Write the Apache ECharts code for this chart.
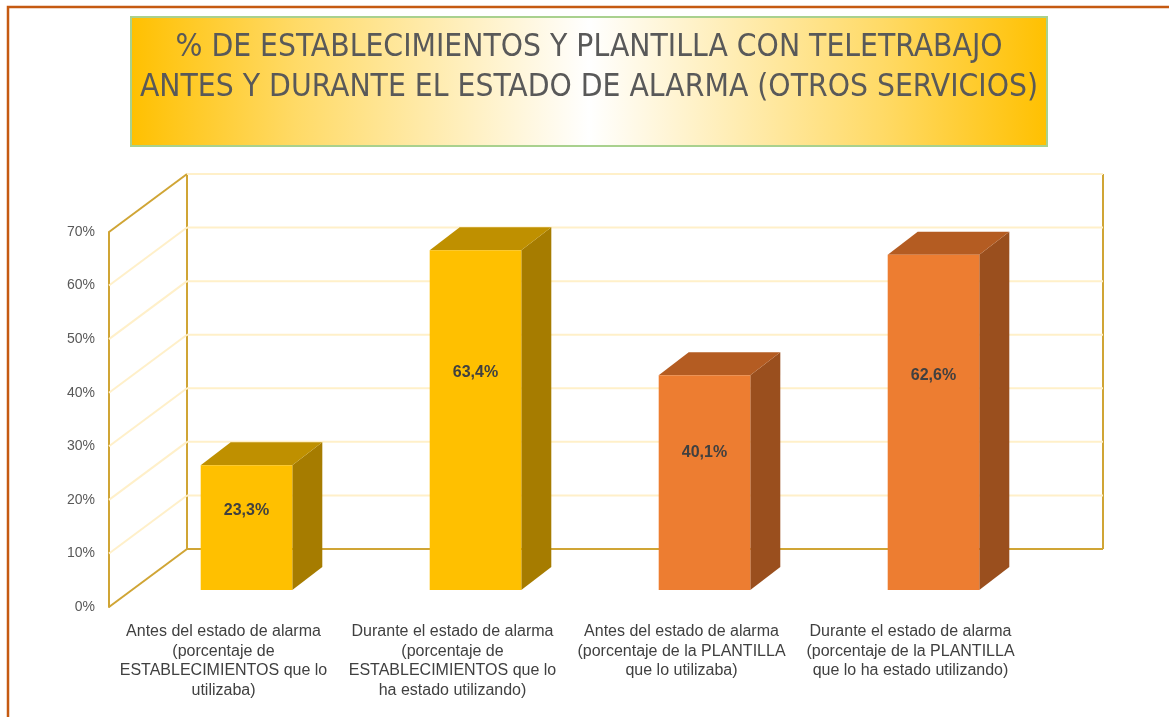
<!DOCTYPE html>
<html>
<head>
<meta charset="utf-8">
<title>Teletrabajo - otros servicios</title>
<script src="https://cdn.jsdelivr.net/npm/echarts@6/dist/echarts.min.js"></script>
<style>
  html, body { margin: 0; padding: 0; background: #fff; }
  #main { width: 1169px; height: 717px; }
</style>
</head>
<body>
<div id="main"></div>
<script>
// datos del grafico
var categorias = [
  'Antes del estado de alarma\n(porcentaje de\nESTABLECIMIENTOS que lo\nutilizaba)',
  'Durante el estado de alarma\n(porcentaje de\nESTABLECIMIENTOS que lo\nha estado utilizando)',
  'Antes del estado de alarma\n(porcentaje de la PLANTILLA\nque lo utilizaba)',
  'Durante el estado de alarma\n(porcentaje de la PLANTILLA\nque lo ha estado utilizando)'
];
var valores = [23.3, 63.4, 40.1, 62.6];
var marcasEje = [0, 10, 20, 30, 40, 50, 60, 70];
var tituloLineas = [
  '% DE ESTABLECIMIENTOS Y PLANTILLA CON TELETRABAJO',
  'ANTES Y DURANTE EL ESTADO DE ALARMA (OTROS SERVICIOS)'
];

// colores: cara frontal, cara superior, cara lateral
var coloresBarra = [
  ['#FFC000', '#BF9000', '#A67C00'],
  ['#FFC000', '#BF9000', '#A67C00'],
  ['#ED7D31', '#B45C22', '#9A4F1E'],
  ['#ED7D31', '#B45C22', '#9A4F1E']
];
var ORO = '#D0A535';
var CLARO = '#FFF0C9';

// desplazamientos de perspectiva (px)
var FONDO = [78, -58];      // pared del fondo respecto al plano frontal
var BARRA_POS = [23, -17];  // cara frontal de la barra
var BARRA_PROF = [30, -23]; // profundidad de la barra

var miChart = echarts.init(document.getElementById('main'));

function formato(v) {
  return v.toFixed(1).replace('.', ',') + '%';
}

// paredes: pared lateral izquierda y pared del fondo
function dibujarPared(params, api) {
  var cs = params.coordSys;
  var v = api.value(1);
  var maxV = marcasEje[marcasEje.length - 1];
  var y = api.coord([0, v])[1];
  var yMax = api.coord([0, maxV])[1] + FONDO[1];
  var xf = cs.x, xb = cs.x + FONDO[0], yb = y + FONDO[1];
  var esBorde = (v === 0 || v === maxV);
  var hijos = [
    { type: 'line', shape: { x1: xf, y1: y, x2: xb, y2: yb },
      style: { stroke: esBorde ? ORO : CLARO, lineWidth: 2 } },
    { type: 'line', shape: { x1: xb, y1: yb, x2: xb + cs.width, y2: yb },
      style: { stroke: v === 0 ? ORO : CLARO, lineWidth: 2 } }
  ];
  if (v === 0) {
    hijos.push({ type: 'line', shape: { x1: xb, y1: yb, x2: xb, y2: yMax },
      style: { stroke: ORO, lineWidth: 2 } });
    hijos.push({ type: 'line', shape: { x1: xb + cs.width, y1: yb, x2: xb + cs.width, y2: yMax },
      style: { stroke: ORO, lineWidth: 2 } });
  }
  return { type: 'group', children: hijos };
}

// barras 3D
function dibujarBarra(params, api) {
  var idx = api.value(0), val = api.value(1);
  var base = api.coord([idx, 0]);
  var tope = api.coord([idx, val]);
  var ancho = api.size([1, 0])[0] * 0.4;
  var x0 = base[0] - ancho / 2 + BARRA_POS[0];
  var x1 = x0 + ancho;
  var yb = base[1] + BARRA_POS[1];
  var yt = tope[1] + BARRA_POS[1];
  var dx = BARRA_PROF[0], dy = BARRA_PROF[1];
  var c = coloresBarra[params.dataIndex];
  return {
    type: 'group',
    children: [
      { type: 'polygon', shape: { points: [[x1, yt], [x1 + dx, yt + dy], [x1 + dx, yb + dy], [x1, yb]] },
        style: { fill: c[2] } },
      { type: 'polygon', shape: { points: [[x0, yt], [x1, yt], [x1 + dx, yt + dy], [x0 + dx, yt + dy]] },
        style: { fill: c[1] } },
      { type: 'rect', shape: { x: x0, y: yt, width: ancho, height: yb - yt },
        style: { fill: c[0] } },
      { type: 'text', x: x0 + ancho / 2, y: yb - 0.64 * (yb - yt),
        style: { text: formato(val), textAlign: 'center', textVerticalAlign: 'middle',
          fill: '#404040', font: 'bold 16px "Liberation Sans", Arial, sans-serif' } }
    ]
  };
}

var option = {
  backgroundColor: '#ffffff',
  animation: false,
  title: {
    text: tituloLineas.join('\n'),
    left: 589,
    top: 28,
    textAlign: 'center',
    padding: 0,
    z: 10,
    textStyle: {
      fontFamily: '"DejaVu Sans Condensed", "Liberation Sans Narrow", sans-serif',
      fontSize: 31.5,
      fontWeight: 'normal',
      color: '#595959',
      lineHeight: 40
    }
  },
  graphic: [
    { type: 'rect', z: 0, shape: { x: 8, y: 7, width: 1300, height: 900 },
      style: { fill: 'none', stroke: '#C55A11', lineWidth: 2.5 } },
    { type: 'rect', z: 1, shape: { x: 131, y: 17, width: 916, height: 129 },
      style: {
        fill: new echarts.graphic.LinearGradient(0, 0, 1, 0, [
          { offset: 0, color: '#FFC000' },
          { offset: 0.18, color: '#FFDA66' },
          { offset: 0.5, color: '#FFFFFF' },
          { offset: 0.82, color: '#FFDA66' },
          { offset: 1, color: '#FFC000' }
        ]),
        stroke: '#A9D18E', lineWidth: 2
      } }
  ],
  grid: { left: 109, right: 144, top: 232, bottom: 110 },
  xAxis: {
    type: 'category',
    data: categorias,
    axisLine: { show: false },
    axisTick: { show: false },
    axisLabel: {
      interval: 0,
      margin: 15,
      fontSize: 16,
      lineHeight: 19.5,
      color: '#404040',
      fontFamily: '"Liberation Sans", Arial, sans-serif'
    }
  },
  yAxis: {
    type: 'value',
    min: 0,
    max: 70,
    interval: 10,
    axisLine: { show: true, lineStyle: { color: ORO, width: 2 } },
    axisTick: { show: false },
    splitLine: { show: false },
    axisLabel: {
      formatter: '{value}%',
      margin: 14,
      fontSize: 14,
      color: '#595959',
      fontFamily: '"Liberation Sans", Arial, sans-serif'
    }
  },
  series: [
    {
      type: 'custom',
      name: 'paredes',
      z: 1,
      renderItem: dibujarPared,
      data: marcasEje.map(function (v) { return [0, v]; })
    },
    {
      type: 'custom',
      name: 'barras',
      z: 5,
      renderItem: dibujarBarra,
      data: valores.map(function (v, i) { return [i, v]; })
    }
  ]
};

miChart.setOption(option);
</script>
</body>
</html>
